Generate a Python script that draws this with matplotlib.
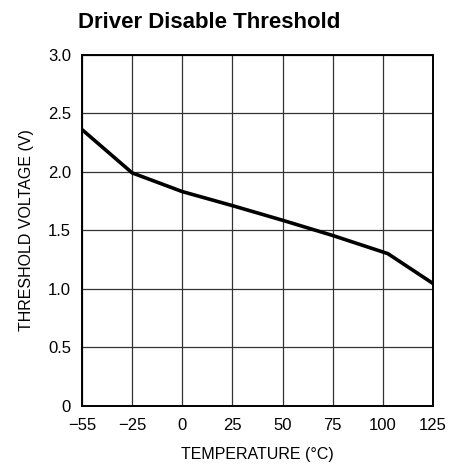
import numpy as np
import matplotlib
matplotlib.use("Agg")
import matplotlib.pyplot as plt

# data
temps = [-55, -25, 0, 25, 50, 75, 102.5, 125]
volts = [2.36, 1.99, 1.83, 1.71, 1.585, 1.455, 1.30, 1.045]
x_ticks = [-55, -25, 0, 25, 50, 75, 100, 125]
x_labels = ["\u221255", "\u221225", "0", "25", "50", "75", "100", "125"]
y_ticks = [0, 0.5, 1.0, 1.5, 2.0, 2.5, 3.0]
y_labels = ["0", "0.5", "1.0", "1.5", "2.0", "2.5", "3.0"]

plt.rcParams["font.family"] = ["Liberation Sans", "DejaVu Sans"]


# tick positions are evenly spaced, so -55..-25 takes the same room as 25 deg
def fwd(t):
    t = np.asarray(t, dtype=float)
    return np.where(t <= -25, (t + 55) / 30.0, 1 + (t + 25) / 25.0)


def inv(p):
    p = np.asarray(p, dtype=float)
    return np.where(p <= 1, p * 30.0 - 55, (p - 1) * 25.0 - 25)


fig = plt.figure(figsize=(4.66, 4.66), dpi=100)
ax = fig.add_axes([0.176, 0.1294, 0.753, 0.7532])
ax.set_xscale("function", functions=(fwd, inv))

ax.plot(temps, volts, color="black", linewidth=2.6, solid_joinstyle="round", zorder=3)

ax.set_xlim(-55, 125)
ax.set_ylim(0, 3.0)
ax.set_xticks(x_ticks)
ax.set_xticklabels(x_labels)
ax.set_yticks(y_ticks)
ax.set_yticklabels(y_labels)
ax.minorticks_off()
ax.tick_params(axis="x", length=0, labelsize=12, pad=9)
ax.tick_params(axis="y", length=0, labelsize=12, pad=8)
ax.grid(True, color="#333333", linewidth=0.9)
for s in ax.spines.values():
    s.set_linewidth(1.4)

ax.set_xlabel("TEMPERATURE (\u00b0C)", fontsize=11.5, labelpad=10)
ax.set_ylabel("THRESHOLD VOLTAGE (V)", fontsize=11.5, labelpad=10)

fig.text(0.167, 0.94, "Driver Disable Threshold", fontsize=16,
         fontweight="bold", ha="left", va="baseline")

fig.savefig("out.png", dpi=100)
